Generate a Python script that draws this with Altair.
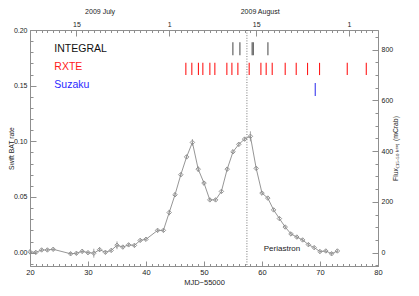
import altair as alt
import pandas as pd

# ---------------- data ----------------
mjd = [20, 21, 22, 23, 24, 27, 28, 29, 30, 31, 32, 33, 34, 35, 36, 37, 38, 39, 40,
       42, 43, 44, 45, 46, 47, 48, 49, 50, 51, 52, 53, 54, 55, 56, 57, 58, 59, 60,
       61, 62, 63, 64, 65, 66, 67, 68, 69, 70, 71, 72, 73]
rate = [0.0007, 0.0002, 0.0024, 0.0024, 0.003, -0.001, -0.0006, 0.0012, 0.0, -0.0005,
        0.0027, 0.0003, 0.002, 0.0066, 0.005, 0.007, 0.0065, 0.011, 0.012,
        0.020, 0.020, 0.036, 0.052, 0.070, 0.086, 0.099, 0.075, 0.0625, 0.0474, 0.0474,
        0.055, 0.075, 0.0906, 0.0973, 0.102, 0.1045, 0.0757, 0.0535,
        0.049, 0.0384, 0.0306, 0.023, 0.0168, 0.014, 0.0114, 0.0072, 0.0045, 0.001,
        0.0015, -0.001, 0.0015]
err = [0.0015, 0.0015, 0.0015, 0.0015, 0.0015, 0.0015, 0.0015, 0.002, 0.0015, 0.004,
       0.002, 0.0015, 0.0015, 0.0035, 0.0015, 0.0015, 0.0015, 0.0015, 0.0015,
       0.0015, 0.0015, 0.0025, 0.0018, 0.0018, 0.0018, 0.003, 0.0025, 0.0018, 0.0015, 0.0015,
       0.0015, 0.0018, 0.0018, 0.0018, 0.0018, 0.0045, 0.0018, 0.0015,
       0.0015, 0.0015, 0.0015, 0.0015, 0.0015, 0.0015, 0.0015, 0.0015, 0.0015, 0.0015,
       0.0015, 0.0015, 0.0015]

integral_t = [54.98, 56.19, 58.3, 58.5, 61.02]
rxte_t = [46.87, 47.90, 49.04, 49.80, 51.01, 51.87, 53.94, 54.81, 55.84, 57.79,
          59.81, 60.72, 61.76, 64.0, 65.90, 67.85, 69.92, 74.70, 77.98]
suzaku_t = [69.18]
periastron = 57.4

instruments = ["INTEGRAL", "RXTE", "Suzaku"]
inst_colors = ["#111111", "#ff1a1a", "#2a2aff"]
tick_colors = ["#555555", "#ff1a1a", "#3a3aee"]
inst_ylo = [0.1773, 0.1595, 0.1406]
inst_yhi = [0.1889, 0.1705, 0.1524]
inst_label_y = [0.1826, 0.1664, 0.1505]
inst_label_x = 24.2

x_major = [20, 30, 40, 50, 60, 70, 80]
x_minor = list(range(20, 81))
top_major = [28, 44, 59, 75]
top_labels = ["15", "1", "15", "1"]
month_pos = [32.0, 59.6]
month_labels = ["2009 July", "2009 August"]
y_major = [0.0, 0.05, 0.10, 0.15, 0.20]
y_minor = [round(i * 0.01, 2) for i in range(-1, 21)]
r_major = [0, 200, 400, 600, 800]
r_minor = list(range(-50, 851, 50))

XDOM = [20, 80]
YDOM = [-0.012, 0.20]
MCRAB_PER_RATE = 4385.0
RDOM = [YDOM[0] * MCRAB_PER_RATE, YDOM[1] * MCRAB_PER_RATE]

W, H = 348, 236
FONT = "Liberation Sans"
GRAY = "#8a8a8a"
AX = "#8f8f8f"
TXT = "#222222"

xs = alt.Scale(domain=XDOM, nice=False, zero=False)
ys = alt.Scale(domain=YDOM, nice=False, zero=False)
rs = alt.Scale(domain=RDOM, nice=False, zero=False)

# ---------------- main data layers ----------------
df = pd.DataFrame({"mjd": mjd, "rate": rate, "err": err})
df["lo"] = df["rate"] - df["err"]
df["hi"] = df["rate"] + df["err"]

line = alt.Chart(df).mark_line(color=GRAY, strokeWidth=0.9).encode(
    x=alt.X("mjd:Q", scale=xs, axis=None),
    y=alt.Y("rate:Q", scale=ys, axis=None),
)
errbars = alt.Chart(df).mark_rule(color=GRAY, strokeWidth=0.8).encode(
    x=alt.X("mjd:Q", scale=xs, axis=None),
    y=alt.Y("lo:Q", scale=ys, axis=None),
    y2="hi:Q",
)
points = alt.Chart(df).mark_point(shape="diamond", size=20, filled=False,
                                  color=GRAY, strokeWidth=0.9, opacity=1).encode(
    x=alt.X("mjd:Q", scale=xs, axis=None),
    y=alt.Y("rate:Q", scale=ys, axis=None),
)

peri = alt.Chart(pd.DataFrame({"t": [periastron]})).mark_rule(
    color="#555555", strokeWidth=0.8, strokeDash=[1, 1.6]).encode(
    x=alt.X("t:Q", scale=xs, axis=None))

peri_text = alt.Chart(pd.DataFrame({"t": [60.3], "y": [0.0033], "s": ["Periastron"]})).mark_text(
    align="left", baseline="middle", font=FONT, fontSize=8, color=TXT).encode(
    x=alt.X("t:Q", scale=xs, axis=None),
    y=alt.Y("y:Q", scale=ys, axis=None),
    text="s:N",
)

rows = []
for name, col, lo, hi, times in zip(instruments, tick_colors, inst_ylo, inst_yhi,
                                    [integral_t, rxte_t, suzaku_t]):
    for t in times:
        rows.append({"t": t, "lo": lo, "hi": hi, "c": col})
obs = alt.Chart(pd.DataFrame(rows)).mark_rule(strokeWidth=1.1).encode(
    x=alt.X("t:Q", scale=xs, axis=None),
    y=alt.Y("lo:Q", scale=ys, axis=None),
    y2="hi:Q",
    color=alt.Color("c:N", scale=None),
)

lab_df = pd.DataFrame({"x": [inst_label_x] * 3, "y": inst_label_y,
                       "s": instruments, "c": inst_colors})
inst_text = alt.Chart(lab_df).mark_text(align="left", baseline="middle", font=FONT,
                                        fontSize=10.5).encode(
    x=alt.X("x:Q", scale=xs, axis=None),
    y=alt.Y("y:Q", scale=ys, axis=None),
    text="s:N",
    color=alt.Color("c:N", scale=None),
)

# ---------------- axes (labels + inward ticks) ----------------
dummy = pd.DataFrame({"x": [XDOM[0]], "y": [0.0], "f": [0.0]})

common = dict(grid=False, domain=False, labelFont=FONT, labelColor=TXT,
              titleFont=FONT, titleColor=TXT, titleFontWeight="normal",
              tickColor=AX, labelFlush=False, labelOverlap=False)


def xlayer(**kw):
    opts = dict(common)
    opts.update(kw)
    return alt.Chart(dummy).mark_point(opacity=0).encode(
        x=alt.X("x:Q", scale=xs, axis=alt.Axis(**opts)))


def ylayer(field, scale, **kw):
    opts = dict(common)
    opts.update(kw)
    return alt.Chart(dummy).mark_point(opacity=0).encode(
        y=alt.Y(field + ":Q", scale=scale, axis=alt.Axis(**opts)))


def tick_expr(vals, labels):
    parts = []
    for v, l in zip(vals, labels):
        parts.append(f"abs(datum.value - {v}) < 0.01 ? '{l}' : ")
    return "".join(parts) + "''"


axes = [
    # bottom
    xlayer(orient="bottom", values=x_major, format="d", ticks=False, labelFontSize=7.5,
           labelPadding=2, title="MJD\u221255000", titleFontSize=7.5, titlePadding=3),
    xlayer(orient="bottom", values=x_major, labels=False, tickSize=5, offset=-5, title=None),
    xlayer(orient="bottom", values=x_minor, labels=False, tickSize=2.5, offset=-2.5, title=None),
    # top
    xlayer(orient="top", values=top_major, labelExpr=tick_expr(top_major, top_labels),
           ticks=False, labelFontSize=7, labelPadding=3, title=None),
    xlayer(orient="top", values=month_pos, labelExpr=tick_expr(month_pos, month_labels),
           ticks=False, labelFontSize=7, labelPadding=16, title=None),
    xlayer(orient="top", values=top_major, labels=False, tickSize=6, offset=-6, title=None),
    xlayer(orient="top", values=x_minor, labels=False, tickSize=2.5, offset=-2.5, title=None),
    # left
    ylayer("y", ys, orient="left", values=y_major, format=".2f", ticks=False,
           labelFontSize=7, labelPadding=3, title="Swift BAT rate", titleFontSize=6.8,
           titleAngle=270, titleAlign="center", titleBaseline="middle",
           titleX=-18.5, titleY=H / 2),
    ylayer("y", ys, orient="left", values=y_major, labels=False, tickSize=6, offset=-6, title=None),
    ylayer("y", ys, orient="left", values=y_minor, labels=False, tickSize=3, offset=-3, title=None),
    # right
    ylayer("f", rs, orient="right", values=r_major, format="d", ticks=False,
           labelFontSize=7, labelPadding=3,
           title="Flux\u208d\u2081\u2085\u208b\u2085\u2080 \u2096\u2091\u1d65\u208e (mCrab)",
           titleFontSize=6.8, titleAngle=270, titleAlign="center", titleBaseline="middle",
           titleX=17, titleY=H / 2),
    ylayer("f", rs, orient="right", values=r_major, labels=False, tickSize=6, offset=-6, title=None),
    ylayer("f", rs, orient="right", values=r_minor, labels=False, tickSize=3, offset=-3, title=None),
]

chart = alt.layer(
    *axes, peri, errbars, line, points, obs, inst_text, peri_text
).resolve_scale(x="independent", y="independent").resolve_axis(
    x="independent", y="independent"
).properties(
    width=W, height=H,
    autosize=alt.AutoSizeParams(type="none"),
    padding={"left": 22, "top": 22, "right": 33, "bottom": 22},
    background="white",
).configure_view(stroke=AX, strokeWidth=1)

chart.save("out.html", embed_options={"renderer": "svg", "actions": False})
